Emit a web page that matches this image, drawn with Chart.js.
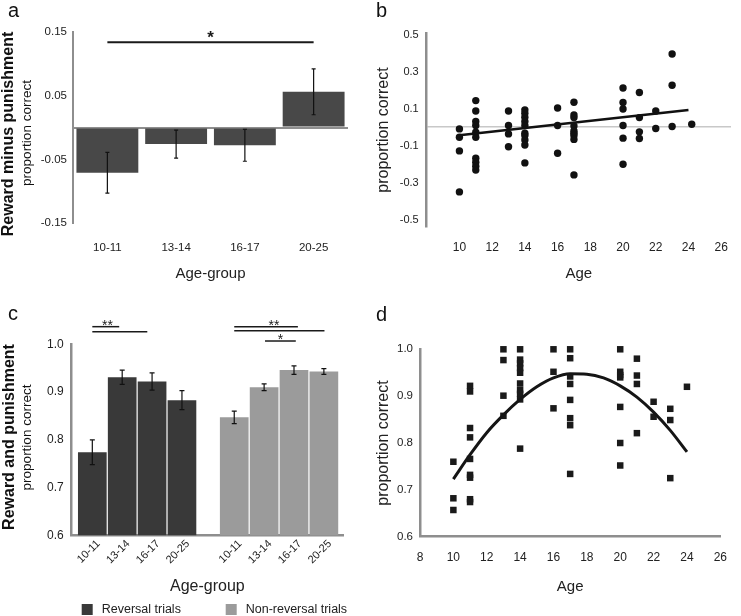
<!DOCTYPE html>
<html>
<head>
<meta charset="utf-8">
<script src="https://cdn.jsdelivr.net/npm/chart.js@4.4.1/dist/chart.umd.min.js"></script>
<style>
  body { margin: 0; background: #fff; }
  #fig { position: relative; width: 741px; height: 616px; overflow: hidden; font-family: "Liberation Sans", Arial, sans-serif; }
  #fig canvas { position: absolute; }
  .tag { position: absolute; font-size: 20px; line-height: 1; color: #111; }
</style>
</head>
<body>
<div id="fig">
  <canvas id="chartA" width="370" height="300" style="left:0;top:0"></canvas>
  <canvas id="chartB" width="371" height="300" style="left:370px;top:0"></canvas>
  <canvas id="chartC" width="370" height="316" style="left:0;top:300px"></canvas>
  <canvas id="chartD" width="371" height="316" style="left:370px;top:300px"></canvas>
  <div class="tag" style="left:8px;top:0">a</div>
  <div class="tag" style="left:376px;top:0">b</div>
  <div class="tag" style="left:8px;top:303px">c</div>
  <div class="tag" style="left:376px;top:304px">d</div>
</div>
<script>
// ---- data ----
const ageGroups = ['10-11', '13-14', '16-17', '20-25'];

// a: reward minus punishment, group means and error bars
const diffMeans = [-0.071, -0.026, -0.028, 0.056];
const diffErrors = [0.032, 0.022, 0.025, 0.036];
const diffTicks = [-0.15, -0.05, 0, 0.05, 0.15];

// b: reward minus punishment per participant
const diffAges = [
  10, 10, 10, 10,
  11, 11, 11, 11, 11, 11, 11, 11, 11, 11,
  13, 13, 13, 13,
  14, 14, 14, 14, 14, 14, 14, 14, 14, 14,
  16, 16, 16,
  17, 17, 17, 17, 17, 17, 17, 17, 17,
  20, 20, 20, 20, 20, 20,
  21, 21, 21, 21,
  22, 22,
  23, 23, 23,
  24.2
];
const diffScores = [
  -0.009, -0.054, -0.128, -0.350,
  0.144, 0.088, 0.031, 0.009, -0.027, -0.054, -0.168, -0.189, -0.211, -0.232,
  0.088, 0.009, -0.036, -0.106,
  0.094, 0.076, 0.054, 0.031, 0.009, -0.032, -0.045, -0.069, -0.096, -0.193,
  0.104, 0.009, -0.141,
  0.135, 0.066, 0.052, 0.007, -0.020, -0.032, -0.045, -0.066, -0.258,
  0.212, 0.134, 0.099, 0.009, -0.059, -0.200,
  0.188, 0.052, -0.025, -0.061,
  0.088, -0.007,
  0.396, 0.227, 0.004,
  0.016
];
const diffFitAges = [10, 24];
const diffFitScores = [-0.043, 0.093];
const diffScatterTicks = [-0.5, -0.3, -0.1, 0, 0.1, 0.3, 0.5];
const ageTicks = [10, 12, 14, 16, 18, 20, 22, 24, 26];

// c: reward and punishment, reversal vs non-reversal trials
const reversalMeans = [0.774, 0.931, 0.922, 0.883];
const reversalErrors = [0.026, 0.015, 0.018, 0.020];
const nonReversalMeans = [0.847, 0.910, 0.946, 0.943];
const nonReversalErrors = [0.013, 0.007, 0.009, 0.006];
const accTicks = [0.6, 0.7, 0.8, 0.9, 1.0];

// d: reward and punishment per participant
const totalAges = [
  10, 10, 10,
  11, 11, 11, 11, 11, 11, 11, 11, 11,
  13, 13, 13, 13,
  14, 14, 14, 14, 14, 14, 14, 14, 14, 14,
  16, 16, 16,
  17, 17, 17, 17, 17, 17, 17, 17,
  20, 20, 20, 20, 20, 20, 20,
  21, 21, 21, 21,
  22, 22,
  23, 23, 23,
  24
];
const totalScores = [
  0.760, 0.682, 0.657,
  0.922, 0.910, 0.832, 0.812, 0.766, 0.732, 0.726, 0.680, 0.674,
  1.000, 0.977, 0.901, 0.858,
  1.000, 0.978, 0.970, 0.960, 0.950, 0.927, 0.913, 0.905, 0.893, 0.788,
  1.000, 0.952, 0.874,
  1.000, 0.981, 0.942, 0.926, 0.892, 0.853, 0.838, 0.734,
  1.000, 0.952, 0.945, 0.940, 0.877, 0.800, 0.752,
  0.980, 0.944, 0.926, 0.821,
  0.888, 0.856,
  0.873, 0.849, 0.725,
  0.920
];
const curveAges = [10, 11, 12, 13, 14, 15, 16, 17, 18, 19, 20, 21, 22, 23, 24];
const curveScores = [0.723, 0.775, 0.822, 0.860, 0.893, 0.920, 0.939, 0.948, 0.947, 0.939, 0.922, 0.898, 0.866, 0.827, 0.781];
const ageTicksFull = [8, 10, 12, 14, 16, 18, 20, 22, 24, 26];

// ---- look ----
const FONT = '"Liberation Sans", Arial, sans-serif';
const axisGrey = '#8e8e8e';
Chart.defaults.font.family = FONT;
Chart.defaults.color = '#222';
Chart.defaults.animation = false;
Chart.defaults.responsive = false;
Chart.defaults.plugins.legend.display = false;
Chart.defaults.plugins.tooltip.enabled = false;

// c: bars sit at 0..3 and, after a gap, 4.75..7.75
const groupGap = 0.75;
const barPos = i => i + (i >= 4 ? groupGap : 0);

// ---- small plugins ----
function makeErrorBars(cap) {
  return {
    id: 'errorBars',
    afterDatasetsDraw(chart) {
      const ctx = chart.ctx, y = chart.scales.y;
      ctx.save();
      ctx.strokeStyle = '#111';
      ctx.lineWidth = 1.2;
      chart.data.datasets.forEach((ds, di) => {
        if (!ds.errors) return;
        const meta = chart.getDatasetMeta(di);
        meta.data.forEach((bar, i) => {
          const v = meta.controller.getParsed(i).y;
          const top = y.getPixelForValue(v + ds.errors[i]);
          const bot = y.getPixelForValue(v - ds.errors[i]);
          ctx.beginPath();
          ctx.moveTo(bar.x, top); ctx.lineTo(bar.x, bot);
          ctx.moveTo(bar.x - cap, top); ctx.lineTo(bar.x + cap, top);
          ctx.moveTo(bar.x - cap, bot); ctx.lineTo(bar.x + cap, bot);
          ctx.stroke();
        });
      });
      ctx.restore();
    }
  };
}

// significance brackets, given in the chart's own x / y units
function makeSigLines(lines, width, font, lift) {
  return {
    id: 'sigLines',
    afterDatasetsDraw(chart) {
      const {ctx, scales: {x, y}} = chart;
      ctx.save();
      ctx.strokeStyle = '#1a1a1a';
      ctx.fillStyle = '#1a1a1a';
      ctx.lineWidth = width;
      ctx.font = font;
      ctx.textAlign = 'center';
      ctx.textBaseline = 'alphabetic';
      lines.forEach(l => {
        const py = y.getPixelForValue(l.y);
        ctx.beginPath();
        ctx.moveTo(x.getPixelForValue(l.from), py);
        ctx.lineTo(x.getPixelForValue(l.to), py);
        ctx.stroke();
        if (l.text) ctx.fillText(l.text, x.getPixelForValue(l.at), py + lift);
      });
      ctx.restore();
    }
  };
}

// two-line rotated y label (bold + normal)
function makeSideText(items) {
  return {
    id: 'sideText',
    afterDraw(chart) {
      const ctx = chart.ctx;
      items.forEach(t => {
        ctx.save();
        ctx.translate(t.x, t.y);
        ctx.rotate(-Math.PI / 2);
        ctx.font = t.font;
        ctx.fillStyle = '#111';
        ctx.textAlign = 'center';
        ctx.textBaseline = 'middle';
        ctx.fillText(t.text, 0, 0);
        ctx.restore();
      });
    }
  };
}

function makeBoxLegend(xs, y) {
  return {
    id: 'boxLegend',
    afterDraw(chart) {
      const ctx = chart.ctx;
      ctx.save();
      ctx.font = '12.5px ' + FONT;
      ctx.textBaseline = 'middle';
      chart.data.datasets.forEach((ds, i) => {
        ctx.fillStyle = ds.backgroundColor;
        ctx.fillRect(xs[i], y - 5.5, 11, 11);
        ctx.fillStyle = '#222';
        ctx.fillText(ds.label, xs[i] + 20, y);
      });
      ctx.restore();
    }
  };
}

const setTicks = list => scale => { scale.ticks = list.map(v => ({value: v})); };

// ---- a ----
new Chart(document.getElementById('chartA'), {
  type: 'bar',
  data: {
    labels: ageGroups,
    datasets: [{
      data: diffMeans,
      errors: diffErrors,
      backgroundColor: '#484848',
      barPercentage: 0.9,
      categoryPercentage: 1
    }]
  },
  options: {
    layout: { padding: { left: 0, top: 32, right: 22, bottom: 0 } },
    scales: {
      x: {
        grid: { display: false, drawTicks: false },
        border: { display: false },
        ticks: { padding: 18, font: { size: 11.5 } },
        title: { display: true, text: 'Age-group', font: { size: 15 }, padding: { top: 0, bottom: 17 } },
        afterFit: s => { s.height = 77; }
      },
      y: {
        min: -0.15, max: 0.15,
        afterBuildTicks: setTicks(diffTicks),
        grid: { color: c => (c.tick && c.tick.value === 0) ? axisGrey : 'rgba(0,0,0,0)', lineWidth: 2, drawTicks: false },
        border: { color: axisGrey, width: 2 },
        ticks: { padding: 6, font: { size: 11.5 }, callback: v => v === 0 ? '' : v.toFixed(2) },
        afterFit: s => { s.width = 73; }
      }
    }
  },
  plugins: [
    makeErrorBars(2),
    makeSigLines([{ from: 0, to: 3, y: 0.134, text: '*', at: 1.5 }], 2, 'bold 17px ' + FONT, 1),
    makeSideText([
      { text: 'Reward minus punishment', x: 9, y: 134, font: 'bold 16px ' + FONT },
      { text: 'proportion correct', x: 27, y: 133, font: '13.5px ' + FONT }
    ])
  ]
});

// ---- b ----
new Chart(document.getElementById('chartB'), {
  type: 'scatter',
  data: {
    datasets: [
      {
        data: diffFitAges.map((a, i) => ({x: a, y: diffFitScores[i]})),
        showLine: true, borderColor: '#111', borderWidth: 2.5, pointRadius: 0, clip: false
      },
      {
        data: diffAges.map((a, i) => ({x: a, y: diffScores[i]})),
        pointRadius: 3.7, backgroundColor: '#111', borderWidth: 0, clip: false
      }
    ]
  },
  options: {
    layout: { padding: { left: 0, top: 33, right: 0, bottom: 0 } },
    scales: {
      x: {
        type: 'linear', min: 8, max: 26.6,
        afterBuildTicks: setTicks(ageTicks),
        grid: { display: false, drawTicks: false },
        border: { display: false },
        ticks: { padding: 13, font: { size: 12 }, autoSkip: false },
        title: { display: true, text: 'Age', font: { size: 15 }, padding: { top: 0, bottom: 17 } },
        afterFit: s => { s.height = 73; }
      },
      y: {
        min: -0.54, max: 0.51,
        afterBuildTicks: setTicks(diffScatterTicks),
        grid: { color: c => (c.tick && c.tick.value === 0) ? '#c8c8c8' : 'rgba(0,0,0,0)', lineWidth: 1.5, drawTicks: false },
        border: { color: axisGrey, width: 2.5 },
        ticks: { padding: 8, font: { size: 11 }, autoSkip: false, callback: v => v === 0 ? '' : String(v) },
        title: { display: true, text: 'proportion correct', font: { size: 16 }, padding: { top: 4, bottom: 0 } },
        afterFit: s => { s.width = 56.7; }
      }
    }
  }
});

// ---- c ----
new Chart(document.getElementById('chartC'), {
  type: 'bar',
  data: {
    datasets: [
      {
        label: 'Reversal trials',
        data: reversalMeans.map((v, i) => ({x: barPos(i), y: v})),
        errors: reversalErrors,
        backgroundColor: '#393939',
        grouped: false, barPercentage: 0.96, categoryPercentage: 1
      },
      {
        label: 'Non-reversal trials',
        data: nonReversalMeans.map((v, i) => ({x: barPos(i + 4), y: v})),
        errors: nonReversalErrors,
        backgroundColor: '#9b9b9b',
        grouped: false, barPercentage: 0.96, categoryPercentage: 1
      }
    ]
  },
  options: {
    layout: { padding: { left: 0, top: 44.3, right: 27, bottom: 0 } },
    scales: {
      x: {
        type: 'linear', min: -0.69, max: 8.39, offset: false,
        afterBuildTicks: setTicks([0, 1, 2, 3, 4, 5, 6, 7].map(barPos)),
        grid: { display: false, drawTicks: false },
        border: { color: axisGrey, width: 2.5 },
        ticks: {
          padding: 2, font: { size: 11 }, autoSkip: false, minRotation: 45, maxRotation: 45, labelOffset: 6,
          callback: (v, i) => ageGroups[i % 4]
        },
        title: { display: true, text: 'Age-group', font: { size: 16 }, padding: { top: 0, bottom: 19.4 } },
        afterFit: s => { s.height = 80.7; }
      },
      y: {
        min: 0.6, max: 1.0,
        afterBuildTicks: setTicks(accTicks),
        grid: { display: false, drawTicks: false },
        border: { color: axisGrey, width: 2.5 },
        ticks: { padding: 8, font: { size: 12 }, callback: v => v.toFixed(1) },
        afterFit: s => { s.width = 71.7; }
      }
    }
  },
  plugins: [
    makeErrorBars(2.5),
    makeSigLines([
      { from: 0, to: 0.9, y: 1.0369, text: '**', at: 0.51 },
      { from: 0, to: 1.84, y: 1.0264 },
      { from: 4.75, to: 6.88, y: 1.0369, text: '**', at: 6.08 },
      { from: 4.75, to: 7.77, y: 1.0285 },
      { from: 5.78, to: 6.81, y: 1.0069, text: '*', at: 6.3 }
    ], 1.5, '14px ' + FONT, 3),
    makeSideText([
      { text: 'Reward and punishment', x: 10, y: 137, font: 'bold 16px ' + FONT },
      { text: 'proportion correct', x: 27, y: 137.5, font: '13.5px ' + FONT }
    ]),
    makeBoxLegend([81.7, 225.7], 309.5)
  ]
});

// ---- d ----
new Chart(document.getElementById('chartD'), {
  type: 'scatter',
  data: {
    datasets: [
      {
        data: curveAges.map((a, i) => ({x: a, y: curveScores[i]})),
        showLine: true, borderColor: '#151515', borderWidth: 3, pointRadius: 0,
        tension: 0.4, cubicInterpolationMode: 'monotone', clip: false
      },
      {
        data: totalAges.map((a, i) => ({x: a, y: totalScores[i]})),
        pointStyle: 'rect', pointRadius: 4.6, backgroundColor: '#1a1a1a', borderWidth: 0, clip: false
      }
    ]
  },
  options: {
    layout: { padding: { left: 0, top: 49.3, right: 12.7, bottom: 0 } },
    scales: {
      x: {
        type: 'linear', min: 8, max: 26,
        afterBuildTicks: setTicks(ageTicksFull),
        grid: { display: false, drawTicks: false },
        border: { color: axisGrey, width: 2.5 },
        ticks: { padding: 14, font: { size: 12 }, autoSkip: false },
        title: { display: true, text: 'Age', font: { size: 15 }, padding: { top: 0, bottom: 20.3 } },
        afterFit: s => { s.height = 79.3; }
      },
      y: {
        min: 0.6, max: 1.0,
        afterBuildTicks: setTicks(accTicks),
        grid: { display: false, drawTicks: false },
        border: { color: axisGrey, width: 2.5 },
        ticks: { padding: 7, font: { size: 11.5 }, callback: v => v.toFixed(1) },
        title: { display: true, text: 'proportion correct', font: { size: 16 }, padding: { top: 4, bottom: 0 } },
        afterFit: s => { s.width = 50; }
      }
    }
  }
});
</script>
</body>
</html>
